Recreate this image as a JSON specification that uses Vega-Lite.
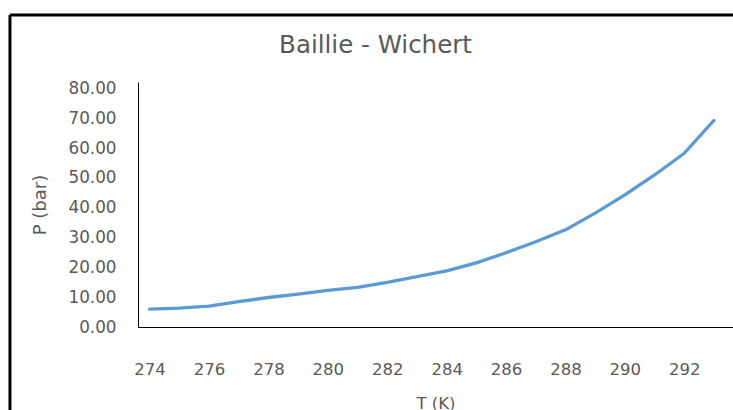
{
  "$schema": "https://vega.github.io/schema/vega-lite/v6.json",
  "autosize": {"type": "none"},
  "padding": {"left": 138, "top": 82, "right": 0, "bottom": 83},
  "width": 595,
  "height": 245,
  "background": "white",
  "title": {
    "text": "Baillie - Wichert",
    "font": "DejaVu Sans",
    "fontSize": 24.5,
    "fontWeight": "normal",
    "color": "#595959",
    "anchor": "middle",
    "baseline": "alphabetic",
    "dx": -60,
    "offset": -64.5
  },
  "data": {
    "values": [
      {"T": 274, "P": 6.0},
      {"T": 275, "P": 6.3},
      {"T": 276, "P": 7.0},
      {"T": 277, "P": 8.5},
      {"T": 278, "P": 9.9},
      {"T": 279, "P": 11.0},
      {"T": 280, "P": 12.3},
      {"T": 281, "P": 13.3},
      {"T": 282, "P": 15.0},
      {"T": 283, "P": 16.9},
      {"T": 284, "P": 18.8},
      {"T": 285, "P": 21.5},
      {"T": 286, "P": 24.9},
      {"T": 287, "P": 28.6},
      {"T": 288, "P": 32.6},
      {"T": 289, "P": 38.2},
      {"T": 290, "P": 44.3},
      {"T": 291, "P": 51.0},
      {"T": 292, "P": 58.3},
      {"T": 293, "P": 69.3}
    ]
  },
  "resolve": {"axis": {"x": "independent", "y": "independent"}},
  "layer": [
    {
      "mark": {"type": "line", "color": "#5B9BD5", "strokeWidth": 3.3, "strokeCap": "round", "strokeJoin": "round"},
      "encoding": {
        "x": {
          "field": "T",
          "type": "quantitative",
          "scale": {"domain": [273.61, 293.64], "nice": false, "zero": false},
          "axis": {
            "title": "T (K)",
            "values": [274, 276, 278, 280, 282, 284, 286, 288, 290, 292],
            "format": "d",
            "grid": false,
            "ticks": false,
            "labelOverlap": false,
            "domainColor": "#000000",
            "domainWidth": 1,
            "labelFont": "DejaVu Sans",
            "labelFontSize": 16.5,
            "labelColor": "#595959",
            "labelPadding": 34,
            "titleFont": "DejaVu Sans",
            "titleFontSize": 16.5,
            "titleFontWeight": "normal",
            "titleColor": "#595959",
            "titlePadding": 18
          }
        },
        "y": {
          "field": "P",
          "type": "quantitative",
          "scale": {"domain": [0, 82.2], "nice": false, "zero": false},
          "axis": {
            "title": "P (bar)",
            "values": [0, 10, 20, 30, 40, 50, 60, 70, 80],
            "format": ".2f",
            "grid": false,
            "ticks": false,
            "labelOverlap": false,
            "domainColor": "#000000",
            "domainWidth": 1,
            "labelFont": "DejaVu Sans",
            "labelFontSize": 16.8,
            "labelColor": "#595959",
            "labelPadding": 22,
            "titleFont": "DejaVu Sans",
            "titleFontSize": 18,
            "titleFontWeight": "normal",
            "titleColor": "#595959",
            "titlePadding": 18
          }
        }
      }
    },
    {
      "data": {"values": [{}]},
      "mark": {"type": "rule", "color": "#000000", "strokeWidth": 3},
      "encoding": {
        "x": {"datum": 269.3, "type": "quantitative", "axis": null},
        "y": {"datum": 104.68, "type": "quantitative", "axis": null},
        "y2": {"datum": -40}
      }
    },
    {
      "data": {"values": [{}]},
      "mark": {"type": "rule", "color": "#000000", "strokeWidth": 3},
      "encoding": {
        "y": {"datum": 104.68, "type": "quantitative", "axis": null},
        "x": {"datum": 269.3, "type": "quantitative", "axis": null},
        "x2": {"datum": 300}
      }
    }
  ],
  "config": {"view": {"stroke": null}}
}
